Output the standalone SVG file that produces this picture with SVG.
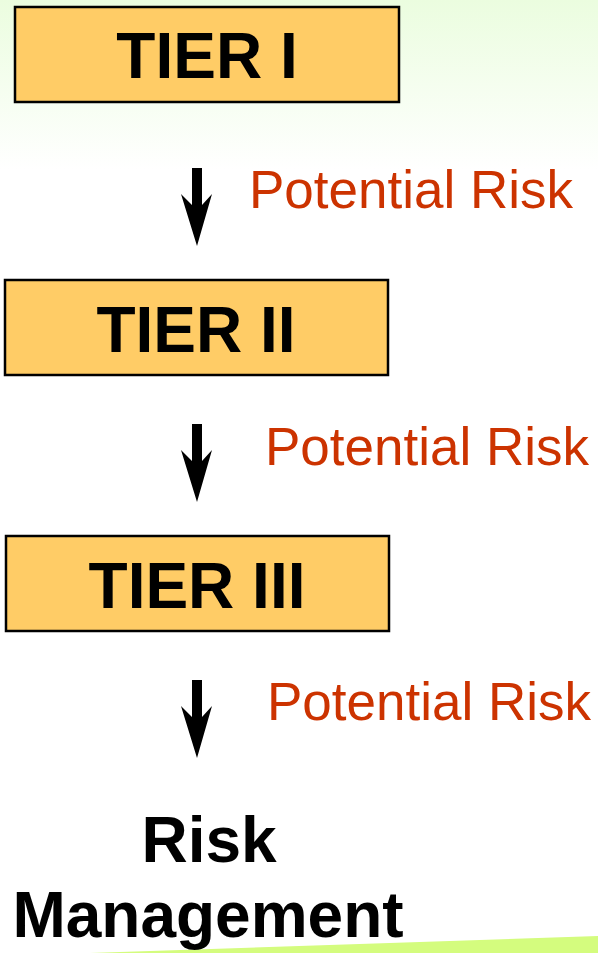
<svg xmlns="http://www.w3.org/2000/svg" width="598" height="953" viewBox="0 0 598 953">
<defs>
<linearGradient id="bg" x1="0" y1="0" x2="0" y2="1">
<stop offset="0" stop-color="#ebfddf"/>
<stop offset="1" stop-color="#ffffff"/>
</linearGradient>
<path id="arrow" d="M-5,0 L5,0 L5,37 L15,26 L0,78 L-16,26 L-5,37 Z"/>
</defs>
<style>
.box{fill:#ffcc66;stroke:#000;stroke-width:2.5}
.tier{font-family:"Liberation Sans",Arial,sans-serif;font-weight:bold;font-size:64px;fill:#000;text-anchor:middle}
.risk{font-family:"Liberation Sans",Arial,sans-serif;font-size:53px;fill:#cc3300}
.rm{font-family:"Liberation Sans",Arial,sans-serif;font-weight:bold;font-size:64px;fill:#000;text-anchor:middle}
</style>
<rect x="0" y="0" width="598" height="953" fill="#ffffff"/>
<rect x="0" y="0" width="598" height="170" fill="url(#bg)"/>
<polygon points="90,953 598,936 598,953" fill="#d4fc7e"/>
<g id="tier1">
<rect class="box" x="15" y="7" width="384" height="95"/>
<text class="tier" x="207" y="78">TIER I</text>
</g>
<g id="tier2">
<rect class="box" x="5" y="280" width="383" height="95"/>
<text class="tier" x="196" y="352">TIER II</text>
</g>
<g id="tier3">
<rect class="box" x="6" y="536" width="383" height="95"/>
<text class="tier" x="197" y="608">TIER III</text>
</g>
<g id="riskmgmt">
<text class="rm" x="209" y="862">Risk</text>
<text class="rm" x="208" y="937">Management</text>
</g>
<g id="connectors">
<use href="#arrow" x="197" y="168"/>
<use href="#arrow" x="197" y="424"/>
<use href="#arrow" x="197" y="680"/>
<text class="risk" x="249" y="208">Potential Risk</text>
<text class="risk" x="265" y="465">Potential Risk</text>
<text class="risk" x="267" y="720">Potential Risk</text>
</g>
</svg>
